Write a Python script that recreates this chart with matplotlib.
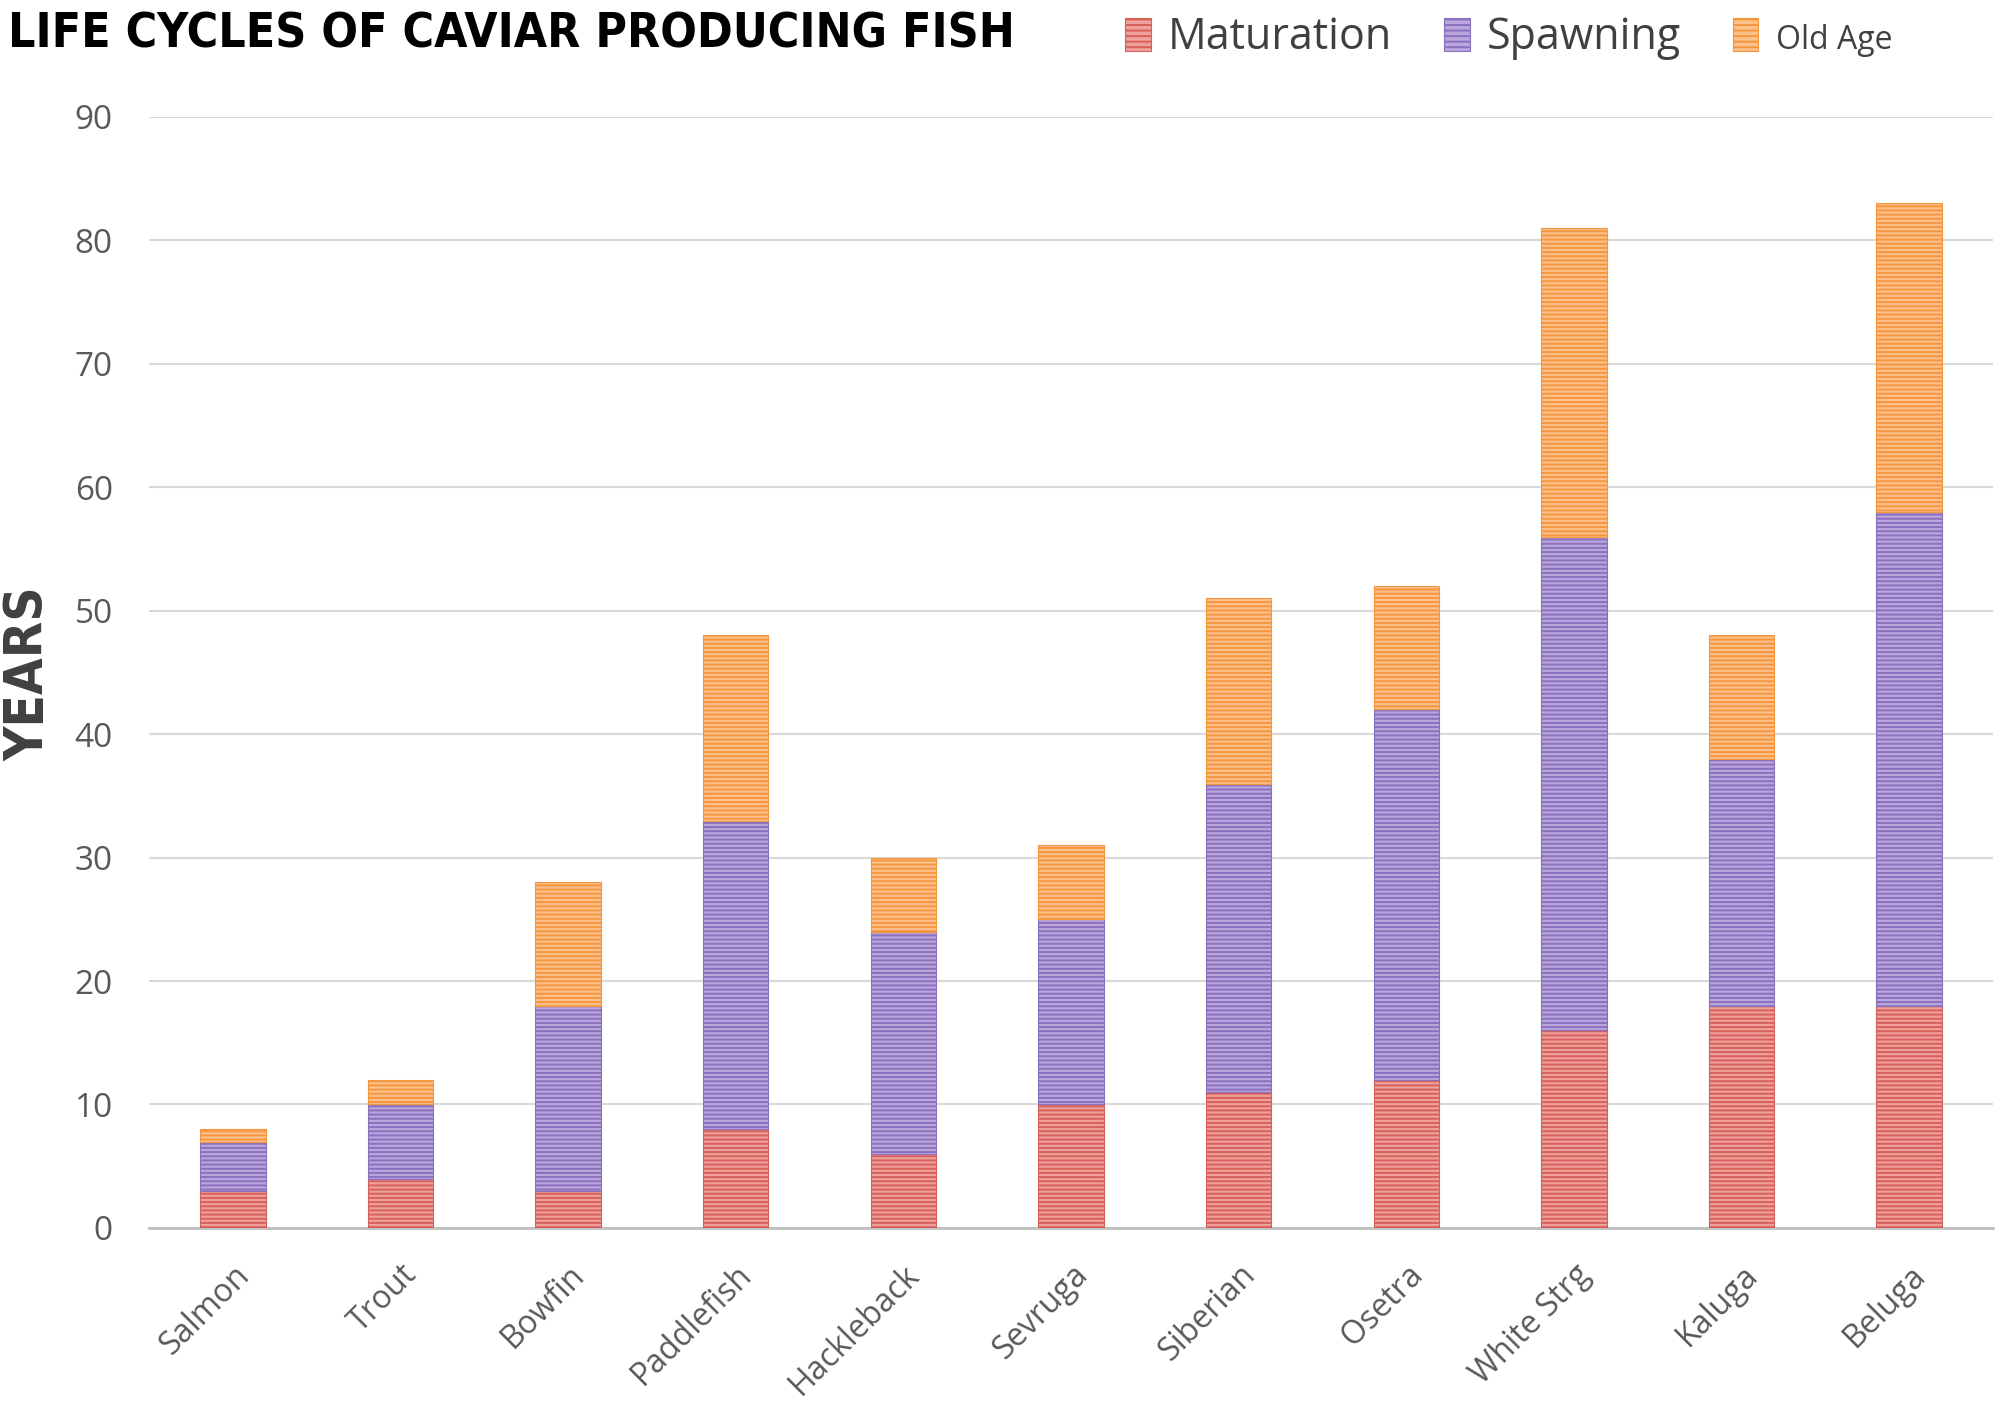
import matplotlib
matplotlib.use("Agg")
import matplotlib.pyplot as plt
import numpy as np
from matplotlib.patches import Patch

# data
fish = ["Salmon", "Trout", "Bowfin", "Paddlefish", "Hackleback", "Sevruga",
        "Siberian", "Osetra", "White Strg", "Kaluga", "Beluga"]
maturation = [3, 4, 3, 8, 6, 10, 11, 12, 16, 18, 18]
spawning = [4, 6, 15, 25, 18, 15, 25, 30, 40, 20, 40]
old_age = [1, 2, 10, 15, 6, 6, 15, 10, 25, 10, 25]
series_names = ["Maturation", "Spawning", "Old Age"]

# (face, stripe) colours
colors = [("#f0a09c", "#d6605a"), ("#b9a6dc", "#8a70bd"), ("#fcc08a", "#f5963f")]

plt.rcParams['hatch.linewidth'] = 1.4
plt.rcParams['font.family'] = ['Open Sans', 'DejaVu Sans']

fig = plt.figure(figsize=(20, 14.04), dpi=100)
ax = fig.add_axes([0.0745, 0.1254, 0.922, 0.7913])

x = np.arange(len(fish))
bottom = np.zeros(len(fish))
for vals, (face, stripe) in zip([maturation, spawning, old_age], colors):
    ax.bar(x, vals, width=0.39, bottom=bottom, color=face, edgecolor=stripe,
           hatch='----', linewidth=0.8, zorder=3)
    bottom += np.array(vals)

ax.set_xlim(-0.5, len(fish) - 0.5)
ax.set_ylim(0, 90)
ax.set_yticks(range(0, 91, 10))
ax.grid(axis='y', color='#d9d9d9', linewidth=1.5, zorder=0)
for s in ['top', 'right', 'left']:
    ax.spines[s].set_visible(False)
ax.spines['bottom'].set_color('#bfbfbf')
ax.spines['bottom'].set_linewidth(2)
ax.tick_params(axis='both', length=0, colors='#595959', labelsize=24)
ax.tick_params(axis='y', pad=26)
ax.set_xticks(x)
ax.set_xticklabels(fish, rotation=45, ha='right', rotation_mode='anchor')
ax.tick_params(axis='x', pad=22, labelsize=23)

fig.text(0.014, 0.52, "YEARS", rotation=90, ha='center', va='center',
         fontsize=38, color='#404040', fontweight='bold', fontstretch='condensed',
         family=['DejaVu Sans Condensed', 'DejaVu Sans'])

fig.text(0.004, 0.976, "LIFE CYCLES OF CAVIAR PRODUCING FISH", ha='left', va='center',
         fontsize=34.5, fontweight='bold', color='black', fontstretch='condensed',
         family=['DejaVu Sans Condensed', 'DejaVu Sans'])

handles = [Patch(facecolor=f, edgecolor=s, hatch='---', linewidth=0.8)
           for f, s in colors]
leg = fig.legend(handles, series_names, loc='center left',
                 bbox_to_anchor=(0.543, 0.973), ncol=3, frameon=False,
                 fontsize=31, handlelength=0.6, handleheight=0.8,
                 handletextpad=0.4, columnspacing=1.2)
for t in leg.get_texts():
    t.set_color('#404040')
leg.get_texts()[2].set_fontsize(23)

fig.savefig("out.png", dpi=100)
